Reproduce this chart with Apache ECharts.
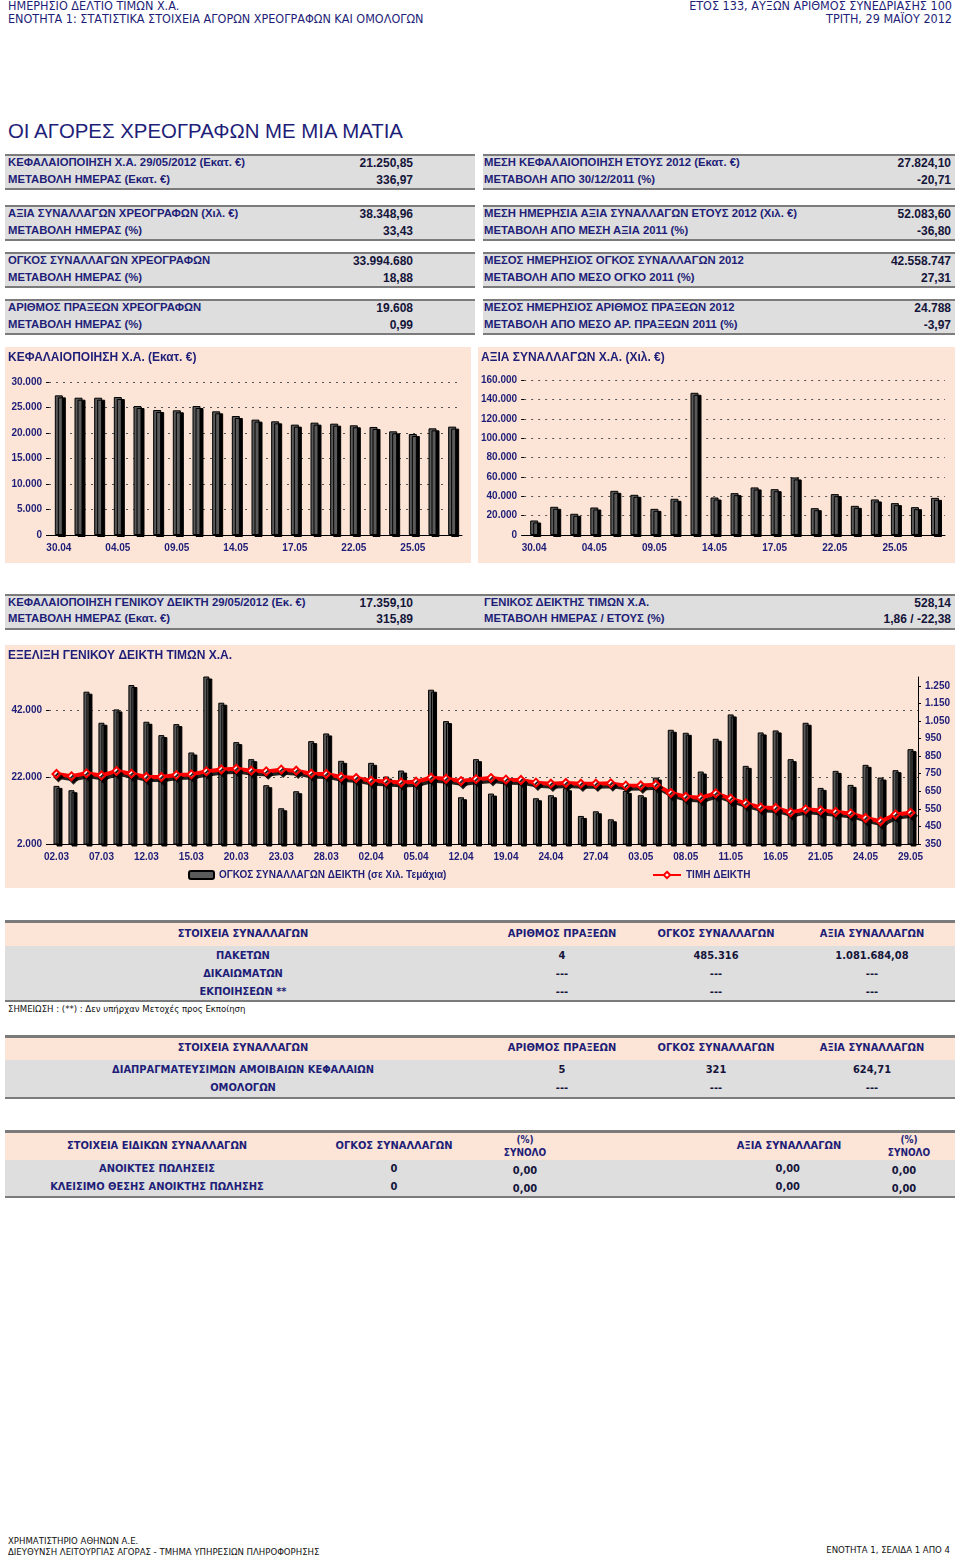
<!DOCTYPE html>
<html><head><meta charset="utf-8">
<script src="https://cdn.jsdelivr.net/npm/echarts@6/dist/echarts.min.js"></script>
<style>
body{margin:0;background:#fff;}
#page{position:relative;width:960px;height:1558px;overflow:hidden;font-family:"Liberation Sans",Arial,sans-serif;}
.t{position:absolute;white-space:nowrap;line-height:1;}
.nar{font-family:"Liberation Sans Narrow","DejaVu Sans Condensed",sans-serif;}
.box{position:absolute;box-sizing:border-box;}
.ch{position:absolute;background:#FCE5D6;}
</style></head><body><div id="page"></div>
<script>
// ---------- DATA ----------
const capDates = ['30.04','02.05','03.05','04.05','07.05','08.05','09.05','10.05','11.05','14.05','15.05','16.05','17.05','18.05','21.05','22.05','23.05','24.05','25.05','28.05','29.05'];
const capValues = [27380,26920,26920,27050,25290,24510,24450,25290,24250,23330,22620,22290,21640,22030,21830,21510,21180,20330,19810,20914,21251];
const valDates = capDates.slice();
const valValues = [15000,29100,21900,28400,45600,41500,27000,37400,146800,38700,43200,49100,47300,59400,27700,42200,30100,36700,32900,28741,38349];
const idxDates = ['02.03','05.03','06.03','07.03','08.03','09.03','12.03','13.03','14.03','15.03','16.03','19.03','20.03','21.03','22.03','23.03','26.03','27.03','28.03','29.03','30.03',
 '02.04','03.04','04.04','05.04','10.04','11.04','12.04','17.04','18.04','19.04','20.04','23.04','24.04','25.04','26.04','27.04','30.04',
 '02.05','03.05','04.05','07.05','08.05','09.05','10.05','11.05','14.05','15.05','16.05','17.05','18.05','21.05','22.05','23.05','24.05','25.05','28.05','29.05'];
const idxVolume = [19400,18100,47600,38300,42300,49600,38600,34600,37900,29400,53500,44300,32500,27400,19600,12700,17800,32800,35100,26900,
 20800,26300,22200,24000,20400,48200,38800,16000,27400,17100,20700,21400,15700,16600,18700,10400,11800,9400,17900,16600,
 21900,36200,35300,23700,33500,40800,25400,35400,36000,27400,38300,18800,23900,19700,25700,21900,24100,30400];
const idxPrice = [748,735,752,740,765,750,731,731,742,746,763,774,778,767,763,773,767,750,748,731,
 725,710,706,700,704,727,721,708,719,725,716,714,699,693,697,693,693,695,682,683,
 687,640,619,613,638,608,581,558,555,530,547,541,532,524,498,479,518,528];
const idxLeftTicks = [2000,22000,42000];
const idxRightTicks = [350,450,550,650,750,850,950,1050,1150,1250];

// ---------- PAGE ----------
const NAVY = '#1e1e78';
const page = document.getElementById('page');
function T(x,y,s,align,css,cls){
  const d=document.createElement('div');
  d.className='t '+(cls||'');
  d.textContent=s;
  d.style.cssText=css||'';
  d.style.left=x+'px'; d.style.top=y+'px';
  const tx = align==='c'?'-50%':(align==='r'?'-100%':'0');
  d.style.transform='translate('+tx+',-50%)';
  page.appendChild(d);
}
function B(x,y,w,h,css){
  const d=document.createElement('div');
  d.className='box';
  d.style.cssText='left:'+x+'px;top:'+y+'px;width:'+w+'px;height:'+h+'px;'+(css||'');
  page.appendChild(d);
}
const BRD='border-top:2px solid #7b7b7b;border-bottom:2px solid #7b7b7b;';
const GRAY='#DEDEDE', PEACH='#FCE5D6';

// header
const hcss='font-size:12.5px;color:'+NAVY+';';
T(8,6,'ΗΜΕΡΗΣΙΟ ΔΕΛΤΙΟ ΤΙΜΩΝ Χ.Α.','l',hcss,'nar');
T(8,19,'ΕΝΟΤΗΤΑ 1: ΣΤΑΤΙΣΤΙΚΑ ΣΤΟΙΧΕΙΑ ΑΓΟΡΩΝ ΧΡΕΟΓΡΑΦΩΝ ΚΑΙ ΟΜΟΛΟΓΩΝ','l',hcss,'nar');
T(952,6,'ΕΤΟΣ 133,  ΑΥΞΩΝ ΑΡΙΘΜΟΣ ΣΥΝΕΔΡΙΑΣΗΣ 100','r',hcss,'nar');
T(952,19,'ΤΡΙΤΗ, 29 ΜΑΪΟΥ 2012','r',hcss,'nar');
T(8,131,'ΟΙ ΑΓΟΡΕΣ ΧΡΕΟΓΡΑΦΩΝ ΜΕ ΜΙΑ ΜΑΤΙΑ','l','font-size:20.4px;color:'+NAVY+';');

// stat blocks
const statLeft = [
 [['ΚΕΦΑΛΑΙΟΠΟΙΗΣΗ Χ.Α. 29/05/2012 (Εκατ. €)','21.250,85'],['ΜΕΤΑΒΟΛΗ ΗΜΕΡΑΣ (Εκατ. €)','336,97']],
 [['ΑΞΙΑ ΣΥΝΑΛΛΑΓΩΝ ΧΡΕΟΓΡΑΦΩΝ (Χιλ. €)','38.348,96'],['ΜΕΤΑΒΟΛΗ ΗΜΕΡΑΣ (%)','33,43']],
 [['ΟΓΚΟΣ ΣΥΝΑΛΛΑΓΩΝ ΧΡΕΟΓΡΑΦΩΝ','33.994.680'],['ΜΕΤΑΒΟΛΗ ΗΜΕΡΑΣ (%)','18,88']],
 [['ΑΡΙΘΜΟΣ ΠΡΑΞΕΩΝ ΧΡΕΟΓΡΑΦΩΝ','19.608'],['ΜΕΤΑΒΟΛΗ ΗΜΕΡΑΣ (%)','0,99']]
];
const statRight = [
 [['ΜΕΣΗ ΚΕΦΑΛΑΙΟΠΟΙΗΣΗ ΕΤΟΥΣ 2012 (Εκατ. €)','27.824,10'],['ΜΕΤΑΒΟΛΗ ΑΠΟ 30/12/2011 (%)','-20,71']],
 [['ΜΕΣΗ ΗΜΕΡΗΣΙΑ ΑΞΙΑ ΣΥΝΑΛΛΑΓΩΝ ΕΤΟΥΣ 2012 (Χιλ. €)','52.083,60'],['ΜΕΤΑΒΟΛΗ ΑΠΟ ΜΕΣΗ ΑΞΙΑ 2011 (%)','-36,80']],
 [['ΜΕΣΟΣ ΗΜΕΡΗΣΙΟΣ ΟΓΚΟΣ ΣΥΝΑΛΛΑΓΩΝ 2012','42.558.747'],['ΜΕΤΑΒΟΛΗ ΑΠΟ ΜΕΣΟ ΟΓΚΟ 2011 (%)','27,31']],
 [['ΜΕΣΟΣ ΗΜΕΡΗΣΙΟΣ ΑΡΙΘΜΟΣ ΠΡΑΞΕΩΝ 2012','24.788'],['ΜΕΤΑΒΟΛΗ ΑΠΟ ΜΕΣΟ ΑΡ. ΠΡΑΞΕΩΝ 2011 (%)','-3,97']]
];
const blockTops=[154,205,252,299];
const lcss='font-size:11.3px;font-weight:bold;color:'+NAVY+';';
const vcss='font-size:12px;font-weight:bold;color:#15153a;';
blockTops.forEach((top,i)=>{
  B(5,top,470,36,'background:'+GRAY+';'+BRD);
  B(483,top,472,36,'background:'+GRAY+';'+BRD);
  statLeft[i].forEach((r,j)=>{ T(8,top+9+j*17,r[0],'l',lcss); T(413,top+9+j*17,r[1],'r',vcss); });
  statRight[i].forEach((r,j)=>{ T(484,top+9+j*17,r[0],'l',lcss); T(951,top+9+j*17,r[1],'r',vcss); });
});

// index stat block
B(5,594,950,36,'background:'+GRAY+';'+BRD);
T(8,603,'ΚΕΦΑΛΑΙΟΠΟΙΗΣΗ ΓΕΝΙΚΟΥ ΔΕΙΚΤΗ 29/05/2012 (Εκ. €)','l',lcss);
T(8,619,'ΜΕΤΑΒΟΛΗ ΗΜΕΡΑΣ (Εκατ. €)','l',lcss);
T(413,603,'17.359,10','r',vcss);
T(413,619,'315,89','r',vcss);
T(484,603,'ΓΕΝΙΚΟΣ ΔΕΙΚΤΗΣ ΤΙΜΩΝ Χ.Α.','l',lcss);
T(484,619,'ΜΕΤΑΒΟΛΗ ΗΜΕΡΑΣ / ΕΤΟΥΣ (%)','l',lcss);
T(951,603,'528,14','r',vcss);
T(951,619,'1,86 / -22,38','r',vcss);

// tables
const tcss='font-size:11px;font-weight:bold;color:'+NAVY+';';
const tvcss='font-size:11px;font-weight:bold;color:#15153a;';
const scss='font-size:10px;font-weight:bold;color:'+NAVY+';';
// table 1
B(5,920,950,26,'background:'+PEACH+';border-top:3px solid #7b7b7b;');
B(5,946,950,56,'background:'+GRAY+';border-bottom:2px solid #7b7b7b;');
const tHead=['ΣΤΟΙΧΕΙΑ ΣΥΝΑΛΛΑΓΩΝ','ΑΡΙΘΜΟΣ ΠΡΑΞΕΩΝ','ΟΓΚΟΣ ΣΥΝΑΛΛΑΓΩΝ','ΑΞΙΑ ΣΥΝΑΛΛΑΓΩΝ'];
const colX=[243,562,716,872];
tHead.forEach((h,i)=>T(colX[i],933,h,'c',tcss,'nar'));
const t1Rows=[['ΠΑΚΕΤΩΝ','4','485.316','1.081.684,08'],['ΔΙΚΑΙΩΜΑΤΩΝ','---','---','---'],['ΕΚΠΟΙΗΣΕΩΝ  **','---','---','---']];
t1Rows.forEach((r,j)=>r.forEach((c,i)=>T(colX[i],955+j*18,c,'c',i?tvcss:tcss,'nar')));
T(8,1009,'ΣΗΜΕΙΩΣΗ : (**) : Δεν υπήρχαν Μετοχές προς Εκποίηση','l','font-size:9.5px;color:#111;','nar');
// table 2
B(5,1035,950,25,'background:'+PEACH+';border-top:3px solid #7b7b7b;');
B(5,1060,950,39,'background:'+GRAY+';border-bottom:2px solid #7b7b7b;');
tHead.forEach((h,i)=>T(colX[i],1047,h,'c',tcss,'nar'));
const t2Rows=[['ΔΙΑΠΡΑΓΜΑΤΕΥΣΙΜΩΝ ΑΜΟΙΒΑΙΩΝ ΚΕΦΑΛΑΙΩΝ','5','321','624,71'],['ΟΜΟΛΟΓΩΝ','---','---','---']];
t2Rows.forEach((r,j)=>r.forEach((c,i)=>T(colX[i],1069+j*18,c,'c',i?tvcss:tcss,'nar')));
// table 3
B(5,1130,950,30,'background:'+PEACH+';border-top:3px solid #7b7b7b;');
B(5,1160,950,38,'background:'+GRAY+';border-bottom:2px solid #7b7b7b;');
T(157,1145,'ΣΤΟΙΧΕΙΑ ΕΙΔΙΚΩΝ ΣΥΝΑΛΛΑΓΩΝ','c',tcss,'nar');
T(394,1145,'ΟΓΚΟΣ ΣΥΝΑΛΛΑΓΩΝ','c',tcss,'nar');
T(525,1140,'(%)','c',scss,'nar');
T(525,1153,'ΣΥΝΟΛΟ','c',scss,'nar');
T(789,1145,'ΑΞΙΑ ΣΥΝΑΛΛΑΓΩΝ','c',tcss,'nar');
T(909,1140,'(%)','c',scss,'nar');
T(909,1153,'ΣΥΝΟΛΟ','c',scss,'nar');
const t3Rows=[['ΑΝΟΙΚΤΕΣ ΠΩΛΗΣΕΙΣ','0','0,00','0,00','0,00'],['ΚΛΕΙΣΙΜΟ ΘΕΣΗΣ ΑΝΟΙΚΤΗΣ ΠΩΛΗΣΗΣ','0','0,00','0,00','0,00']];
t3Rows.forEach((r,j)=>{
  const y=1168+j*18;
  T(157,y,r[0],'c',tcss,'nar');
  T(394,y,r[1],'c',tvcss,'nar');
  T(525,y+2,r[2],'c',tvcss,'nar');
  T(800,y,r[3],'r',tvcss,'nar');
  T(904,y+2,r[4],'c',tvcss,'nar');
});

// footer
const fcss='font-size:9.5px;color:#111;';
T(8,1541,'ΧΡΗΜΑΤΙΣΤΗΡΙΟ ΑΘΗΝΩΝ Α.Ε.','l',fcss,'nar');
T(8,1552,'ΔΙΕΥΘΥΝΣΗ ΛΕΙΤΟΥΡΓΙΑΣ ΑΓΟΡΑΣ - ΤΜΗΜΑ ΥΠΗΡΕΣΙΩΝ ΠΛΗΡΟΦΟΡΗΣΗΣ','l',fcss,'nar');
T(950,1550,'ΕΝΟΤΗΤΑ 1, ΣΕΛΙΔΑ 1 ΑΠΟ 4','r',fcss,'nar');

// ---------- CHARTS ----------
function mk(x,y,w,h){
  const d=document.createElement('div');
  d.className='ch';
  d.style.cssText='left:'+x+'px;top:'+y+'px;width:'+w+'px;height:'+h+'px;';
  page.appendChild(d);
  return echarts.init(d,null,{renderer:'canvas',width:w,height:h});
}
function fmt(v){return String(v).replace(/\B(?=(\d{3})+(?!\d))/g,'.');}
const FONT='"Liberation Sans", Arial, sans-serif';
const lab={color:NAVY,fontWeight:'bold',fontSize:10,fontFamily:FONT};
const barStyle={color:'#5a5a5a',borderColor:'#000',borderWidth:1,shadowColor:'#000',shadowBlur:0,shadowOffsetX:3,shadowOffsetY:2};
const dashed={type:[2,5],color:'#555',width:1};
const titleStyle={color:NAVY,fontSize:12,fontWeight:'bold',fontFamily:FONT};

function small(chart,title,dates,vals,max,interval,grid){
  chart.setOption({
    animation:false,
    title:{text:title,left:3,top:5,padding:0,textStyle:titleStyle},
    grid:grid,
    xAxis:{type:'category',data:dates,
      axisLine:{lineStyle:{color:'#000',width:1}},
      axisTick:{interval:0,length:4,lineStyle:{color:'#000'}},
      axisLabel:Object.assign({interval:2,margin:8},lab)},
    yAxis:{type:'value',min:0,max:max,interval:interval,
      axisLine:{show:false},axisTick:{show:true,length:3,lineStyle:{color:'#000'}},
      axisLabel:Object.assign({formatter:fmt,margin:7},lab),
      splitLine:{show:true,lineStyle:dashed}},
    series:[{type:'bar',data:vals,barWidth:8,itemStyle:barStyle}]
  });
}
small(mk(5,347,466,216),'ΚΕΦΑΛΑΙΟΠΟΙΗΣΗ Χ.Α. (Εκατ. €)',capDates,capValues,30000,5000,{left:44,right:9,top:35,bottom:28});
small(mk(478,347,477,216),'ΑΞΙΑ ΣΥΝΑΛΛΑΓΩΝ Χ.Α. (Χιλ. €)',valDates,valValues,160000,20000,{left:40,right:10,top:33,bottom:28});

const ic=mk(5,645,950,243);
const volName='ΟΓΚΟΣ ΣΥΝΑΛΛΑΓΩΝ ΔΕΙΚΤΗ (σε Χιλ. Τεμάχια)';
const prName='ΤΙΜΗ ΔΕΙΚΤΗ';
ic.setOption({
  animation:false,
  title:{text:'ΕΞΕΛΙΞΗ ΓΕΝΙΚΟΥ ΔΕΙΚΤΗ ΤΙΜΩΝ Χ.Α.',left:3,top:5,padding:0,textStyle:titleStyle},
  legend:[
    {data:[volName],left:183,top:225,padding:0,itemWidth:25,itemHeight:8,textStyle:lab},
    {data:[prName],left:647,top:225,padding:0,itemWidth:28,itemHeight:8,textStyle:lab}
  ],
  grid:{left:44,right:37,top:32,bottom:44},
  xAxis:{type:'category',data:idxDates,
    axisLine:{lineStyle:{color:'#000',width:1}},
    axisTick:{interval:2,length:4,lineStyle:{color:'#000'}},
    axisLabel:Object.assign({interval:2,margin:8},lab)},
  yAxis:[
    {type:'value',min:2000,max:52000,position:'left',
      axisLine:{show:false},
      axisTick:{show:true,length:3,customValues:idxLeftTicks,lineStyle:{color:'#000'}},
      axisLabel:Object.assign({formatter:fmt,margin:7,customValues:idxLeftTicks},lab),
      splitLine:{show:false}},
    {type:'value',min:350,max:1300,position:'right',
      axisLine:{show:true,lineStyle:{color:'#000'}},
      axisTick:{show:true,length:3,customValues:idxRightTicks,lineStyle:{color:'#000'}},
      axisLabel:Object.assign({formatter:fmt,margin:7,customValues:idxRightTicks},lab),
      splitLine:{show:false}}
  ],
  series:[
    {name:volName,type:'bar',yAxisIndex:0,data:idxVolume,barWidth:6,itemStyle:barStyle,clip:true,z:2,
      markLine:{silent:true,symbol:'none',z:1,label:{show:false},lineStyle:dashed,animation:false,
        data:[{yAxis:22000},{yAxis:42000}]}},
    {name:prName,type:'line',yAxisIndex:1,data:idxPrice,z:5,
      symbol:'diamond',symbolSize:8,
      lineStyle:{color:'#FF0000',width:4,shadowColor:'rgba(0,0,0,0.85)',shadowBlur:0,shadowOffsetX:2,shadowOffsetY:3},
      itemStyle:{color:'#fff',borderColor:'#FF0000',borderWidth:2,shadowColor:'rgba(0,0,0,0.85)',shadowBlur:0,shadowOffsetX:2,shadowOffsetY:3}}
  ]
});
</script></body></html>
